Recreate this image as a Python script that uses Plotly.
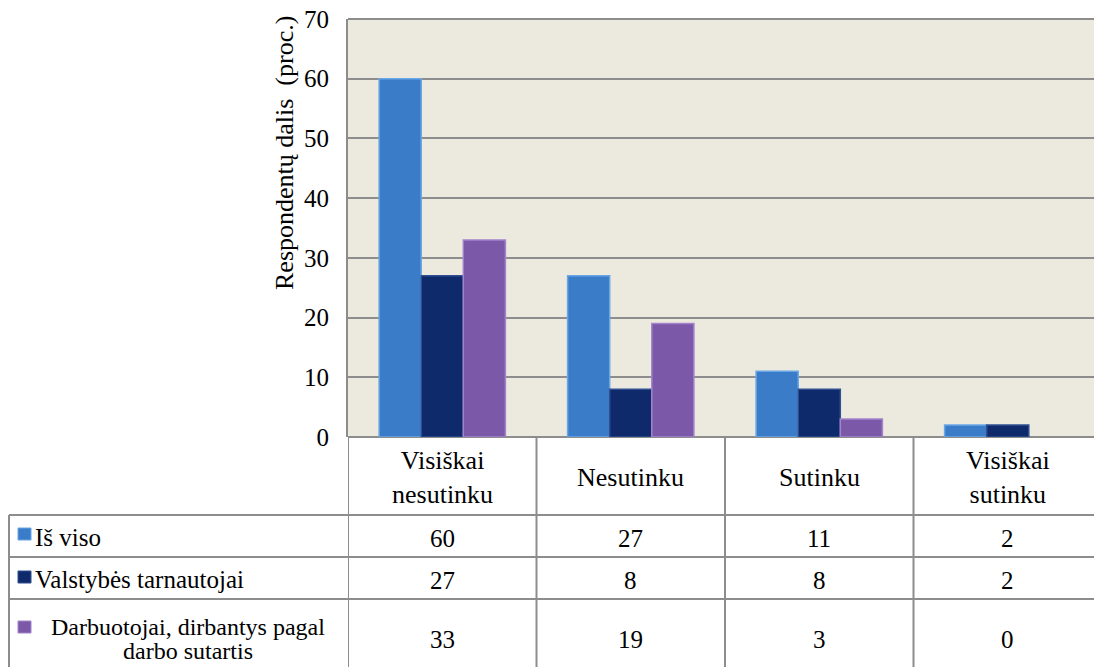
import plotly.graph_objects as go

categories = ["Visiškai<br>nesutinku", "Nesutinku", "Sutinku", "Visiškai<br>sutinku"]
series_names = ["Iš viso", "Valstybės tarnautojai", "Darbuotojai, dirbantys pagal<br>darbo sutartis"]
is_viso = [60, 27, 11, 2]
valstybes = [27, 8, 8, 2]
darbuotojai = [33, 19, 3, 0]
y_ticks = [0, 10, 20, 30, 40, 50, 60, 70]

series_values = [is_viso, valstybes, darbuotojai]
colors = ["#3a7cc8", "#0f2a6a", "#7b58a8"]
edge_colors = ["#69a6e6", "#2f4f92", "#a384cc"]

W, H = 1094, 667
L, T, B = 348, 19, 230
PW = W - L
PH = H - T - B
FONT = "Liberation Serif"
GRID = "#8d8d8d"


def xp(px):
    return (px - L) / PW


def yp(py):
    return (H - B - py) / PH


fig = go.Figure()
x_idx = list(range(len(categories)))
for name, vals, c, ec in zip(series_names, series_values, colors, edge_colors):
    fig.add_trace(go.Bar(
        x=x_idx, y=vals, name=name.replace("<br>", " "),
        marker=dict(color=c, line=dict(color=ec, width=[1.5 if v > 0 else 0 for v in vals])),
        showlegend=False,
    ))

bottom_plot = H - B
header_bottom = 515
row_lines = [515, 557, 599]
left_col = 9

shapes = []
line_style = dict(color=GRID, width=2)
for k in range(len(categories)):
    shapes.append(dict(type="line", xref="x", yref="paper", x0=k - 0.5, x1=k - 0.5,
                       y0=yp(bottom_plot), y1=yp(H + 10), line=line_style))
shapes.append(dict(type="line", xref="paper", yref="paper", x0=xp(left_col), x1=xp(left_col),
                   y0=yp(header_bottom), y1=yp(H + 10), line=line_style))
for ry in row_lines:
    shapes.append(dict(type="line", xref="paper", yref="paper", x0=xp(left_col), x1=1.02,
                       y0=yp(ry), y1=yp(ry), line=line_style))
shapes.append(dict(type="line", xref="paper", yref="paper", x0=0, x1=1.02, y0=1, y1=1, line=line_style))

annotations = []
txt = dict(showarrow=False, yanchor="middle")
for k, cat in enumerate(categories):
    annotations.append(dict(x=k, y=yp(478), xref="x", yref="paper",
                            text=cat, xanchor="center", align="center",
                            font=dict(family=FONT, size=26, color="#000"), **txt))
row_centers = [538, 580, 639]
square_centers = [534, 577, 627]
for r, (name, vals, c) in enumerate(zip(series_names, series_values, colors)):
    cy = row_centers[r]
    for k, v in enumerate(vals):
        annotations.append(dict(x=k, y=yp(cy), xref="x", yref="paper", text=str(v), xanchor="center",
                                font=dict(family=FONT, size=25, color="#000"), **txt))
    sc = square_centers[r]
    shapes.append(dict(type="rect", xref="paper", yref="paper",
                       x0=xp(18), x1=xp(31), y0=yp(sc + 6), y1=yp(sc - 6),
                       fillcolor=c, line=dict(color=edge_colors[r], width=1)))
    if r < 2:
        annotations.append(dict(x=xp(33), y=yp(cy - 1), xref="paper", yref="paper", text=name,
                                xanchor="left", font=dict(family=FONT, size=25, color="#000"), **txt))
    else:
        parts = name.split("<br>")
        for j, part in enumerate(parts):
            annotations.append(dict(x=xp(188), y=yp(627 + 24 * j), xref="paper", yref="paper", text=part,
                                    xanchor="center", align="center",
                                    font=dict(family=FONT, size=24, color="#000"), **txt))

annotations.append(dict(x=xp(284), y=yp(153), xref="paper", yref="paper",
                        text="Respondentų dalis  (proc.)", textangle=-90, xanchor="center",
                        font=dict(family=FONT, size=26, color="#000"), **txt))

fig.update_layout(
    width=W, height=H,
    margin=dict(l=L, r=0, t=T, b=B),
    font=dict(family=FONT, color="#000"),
    paper_bgcolor="white",
    plot_bgcolor="#ece9df",
    barmode="group",
    bargap=0.33,
    bargroupgap=0,
    shapes=shapes,
    annotations=annotations,
    xaxis=dict(range=[-0.5, (W - L) / 188.5 - 0.5], showticklabels=False, showgrid=False,
               zeroline=False, showline=False, fixedrange=True),
    yaxis=dict(range=[0, 70], tickvals=y_ticks, showgrid=True, gridcolor=GRID, gridwidth=2,
               zeroline=True, zerolinecolor=GRID, zerolinewidth=2,
               showline=True, linecolor=GRID, linewidth=2,
               ticks="", ticklabelstandoff=12,
               tickfont=dict(family=FONT, size=25, color="#000")),
)

fig.write_html("out.html")
